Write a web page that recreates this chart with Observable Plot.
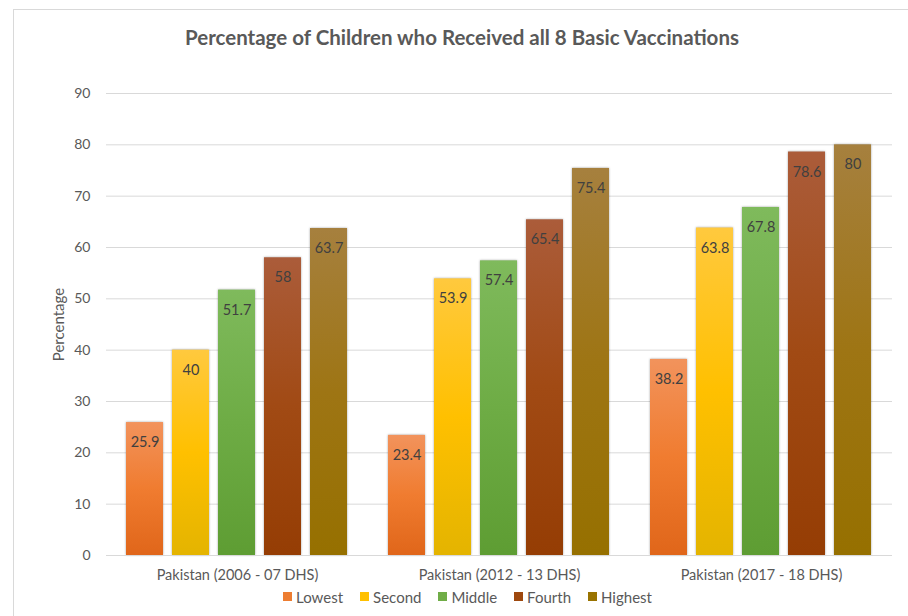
<!DOCTYPE html>
<html>
<head>
<meta charset="utf-8">
<script src="https://cdn.jsdelivr.net/npm/d3@7"></script>
<script src="https://cdn.jsdelivr.net/npm/@observablehq/plot@0.6"></script>
<style>
  html, body { margin: 0; padding: 0; background: #fff; overflow: hidden; }
  #wrap { position: relative; width: 908px; height: 616px; overflow: hidden; font-family: Lato, "Open Sans", sans-serif; }
  #frame { position: absolute; left: 13px; top: 9px; width: 1000px; height: 700px; border-left: 1px solid #D9D9D9; border-top: 1px solid #D9D9D9; }
  #title { position: absolute; left: 13px; width: 898px; top: 25px; text-align: center; font-weight: bold; font-size: 20.5px; color: #595959; }
  #chart { position: absolute; left: 0; top: 70px; }
  #legend { position: absolute; left: 23px; width: 906px; top: 580px; display: flex; justify-content: center; }
  #legend span { margin-right: 17px !important; }
  #legend span svg { margin-right: 4px !important; }
  .bars rect { filter: drop-shadow(0 0 1.2px rgba(0,0,0,0.35)); }
</style>
</head>
<body>
<div id="wrap">
  <div id="frame"></div>
  <div id="title">Percentage of Children who Received all 8 Basic Vaccinations</div>
  <div id="chart"></div>
  <div id="legend"></div>
</div>
<script>
const groups = ["Pakistan (2006 - 07 DHS)", "Pakistan (2012 - 13 DHS)", "Pakistan (2017 - 18 DHS)"];
const series = ["Lowest", "Second", "Middle", "Fourth", "Highest"];
const lowest  = [25.9, 23.4, 38.2];
const second  = [40, 53.9, 63.8];
const middle  = [51.7, 57.4, 67.8];
const fourth  = [58, 65.4, 78.6];
const highest = [63.7, 75.4, 80];
const yTicks = [0, 10, 20, 30, 40, 50, 60, 70, 80, 90];
const baseColors = ["#ED7D31", "#FFC000", "#70AD47", "#9E480E", "#997300"];
const gradStops = [
  ["#F2935C", "#F07C30", "#E0661A"],
  ["#FFC93E", "#FFC000", "#E4B400"],
  ["#7FBA5C", "#6EAC45", "#5E9D33"],
  ["#AB5C3A", "#A14A14", "#953D04"],
  ["#A6803E", "#9E7514", "#967000"]
];

const valuesBySeries = [lowest, second, middle, fourth, highest];
const data = [];
series.forEach((s, i) => groups.forEach((g, j) => data.push({series: s, group: g, value: valuesBySeries[i][j], idx: i})));

const barMarks = series.map((s, i) =>
  Plot.barY(data.filter(d => d.series === s), {
    fx: "group", x: "series", y: "value", fill: `url(#grad${i})`, className: "bars"
  })
);

const chart = Plot.plot({
  width: 908,
  height: 520,
  marginLeft: 105,
  marginRight: 15,
  marginTop: 23,
  marginBottom: 35,
  style: { fontFamily: "Lato, 'Open Sans', sans-serif", fontSize: "14px", color: "#595959", background: "transparent" },
  fx: { domain: groups, padding: 0, label: null },
  x: { domain: series, paddingInner: 0.19, paddingOuter: 0.4, axis: null },
  y: { domain: [0, 90], ticks: yTicks, label: null },
  marks: [
    Plot.gridY(yTicks, { stroke: "#D9D9D9", strokeOpacity: 1 }),
    Plot.axisY(yTicks, { tickSize: 0, tickPadding: 16, label: null, fontSize: 14, fill: "#595959" }),
    Plot.axisFx({ anchor: "bottom", tickSize: 0, tickPadding: 14, label: null, fontSize: 14.5, fill: "#595959" }),
    ...barMarks,
    Plot.ruleY([0], { stroke: "#D9D9D9", strokeWidth: 1.2 }),
    Plot.text(data, { fx: "group", x: "series", y: "value", text: d => String(d.value), dy: 20, fill: "#404040", fontSize: 14.5 }),
    Plot.text(["Percentage"], { frameAnchor: "left", textAnchor: "middle", dx: -47, rotate: -90, fill: "#595959", fontSize: 15, facetAnchor: "left" })
  ]
});

// gradient definitions for bars
const svg = d3.select(chart.tagName.toLowerCase() === "svg" ? chart : chart.querySelector("svg"));
const defs = svg.insert("defs", ":first-child");
gradStops.forEach((stops, i) => {
  const lg = defs.append("linearGradient").attr("id", `grad${i}`).attr("x1", 0).attr("y1", 0).attr("x2", 0).attr("y2", 1);
  lg.append("stop").attr("offset", "0%").attr("stop-color", stops[0]);
  lg.append("stop").attr("offset", "50%").attr("stop-color", stops[1]);
  lg.append("stop").attr("offset", "100%").attr("stop-color", stops[2]);
});
document.getElementById("chart").appendChild(chart);

const legend = Plot.legend({
  color: { type: "categorical", domain: series, range: baseColors },
  swatchSize: 9,
  style: { fontFamily: "Lato, 'Open Sans', sans-serif", fontSize: "15px", color: "#595959", margin: "0" }
});
document.getElementById("legend").appendChild(legend);
</script>
</body>
</html>
